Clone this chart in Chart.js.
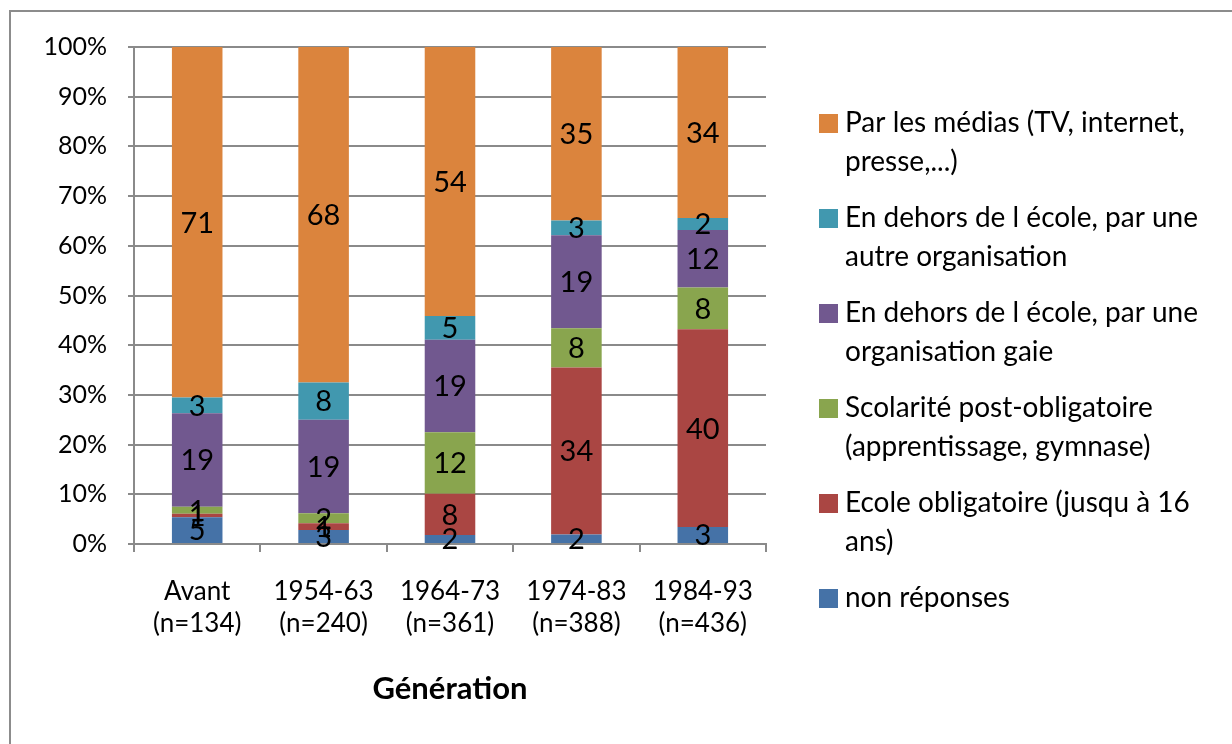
<!DOCTYPE html>
<html lang="fr">
<head>
    <meta charset="utf-8">
    <title>Génération</title>
    <script src="https://cdn.jsdelivr.net/npm/chart.js"></script>
    <style>
        body { margin: 0; background: #fff; }
        #wrap { width: 1232px; height: 744px; }
    </style>
</head>
<body>
    <div id="wrap"><canvas id="genChart"></canvas></div>
    <script>
        // data (percent of each generation)
        const categories = [
            ['Avant', '(n=134)'],
            ['1954-63', '(n=240)'],
            ['1964-73', '(n=361)'],
            ['1974-83', '(n=388)'],
            ['1984-93', '(n=436)']
        ];
        const nonReponses      = [5.4, 2.8, 1.8, 1.9, 3.4];
        const ecoleObligatoire = [0.7, 1.4, 8.3, 33.6, 39.8];
        const postObligatoire  = [1.4, 2.0, 12.4, 7.9, 8.4];
        const orgGaie          = [18.8, 18.8, 18.6, 18.7, 11.6];
        const autreOrg         = [3.2, 7.5, 4.8, 3.0, 2.4];
        const medias           = [70.5, 67.5, 54.1, 34.9, 34.4];

        const seriesLabels = [
            ['non réponses'],
            ['Ecole obligatoire (jusqu à 16', 'ans)'],
            ['Scolarité post-obligatoire', '(apprentissage, gymnase)'],
            ['En dehors de l école, par une', 'organisation gaie'],
            ['En dehors de l école, par une', 'autre organisation'],
            ['Par les médias (TV, internet,', 'presse,...)']
        ];
        const seriesValues = [nonReponses, ecoleObligatoire, postObligatoire, orgGaie, autreOrg, medias];
        const seriesColors = ['#4572A7', '#AA4643', '#89A54E', '#71588F', '#4198AF', '#DB843D'];
        const yTicks = [0, 10, 20, 30, 40, 50, 60, 70, 80, 90, 100];

        const gridGray = '#8a8a8a';
        const fontName = 'Lato';

        // frame round the whole chart
        const framePlugin = {
            id: 'frame',
            beforeDraw(chart) {
                const ctx = chart.ctx;
                ctx.save();
                ctx.fillStyle = '#fff';
                ctx.fillRect(0, 0, chart.width, chart.height);
                ctx.strokeStyle = '#8c8c8c';
                ctx.lineWidth = 2;
                ctx.strokeRect(10, 11, chart.width + 20, chart.height + 20);
                ctx.restore();
            }
        };

        // value written in the middle of every segment
        const valueLabels = {
            id: 'valueLabels',
            afterDatasetsDraw(chart) {
                const ctx = chart.ctx;
                ctx.save();
                ctx.font = '29px ' + fontName;
                ctx.fillStyle = '#000';
                ctx.textAlign = 'center';
                ctx.textBaseline = 'middle';
                chart.data.datasets.forEach((ds, i) => {
                    chart.getDatasetMeta(i).data.forEach((bar, j) => {
                        const p = bar.getProps(['x', 'y', 'base'], true);
                        ctx.fillText(Math.round(ds.data[j]), p.x, (p.y + p.base) / 2 + 1);
                    });
                });
                ctx.restore();
            }
        };

        // legend on the right, last series on top, wrapped over two lines
        const sideLegend = {
            id: 'sideLegend',
            afterDraw(chart) {
                const ctx = chart.ctx;
                ctx.save();
                ctx.font = '28px ' + fontName;
                ctx.textBaseline = 'middle';
                ctx.textAlign = 'left';
                const n = chart.data.datasets.length;
                for (let k = 0; k < n; k++) {
                    const ds = chart.data.datasets[n - 1 - k];
                    const y = 123 + k * 95;
                    ctx.fillStyle = ds.backgroundColor;
                    ctx.fillRect(819, y - 9, 19, 19);
                    ctx.fillStyle = '#000';
                    ds.lines.forEach((line, li) => ctx.fillText(line, 845, y + li * 39));
                }
                ctx.restore();
            }
        };

        const datasets = seriesValues.map((vals, i) => ({
            label: seriesLabels[i].join(' '),
            lines: seriesLabels[i],
            data: vals,
            backgroundColor: seriesColors[i],
            borderWidth: 0,
            barPercentage: 0.4,
            categoryPercentage: 1
        }));

        new Chart(document.getElementById('genChart'), {
            type: 'bar',
            data: { labels: categories, datasets: datasets },
            options: {
                responsive: true,
                maintainAspectRatio: false,
                animation: false,
                layout: { padding: { left: 0, top: 47, right: 466, bottom: 0 } },
                plugins: {
                    legend: { display: false },
                    tooltip: { enabled: false }
                },
                scales: {
                    x: {
                        stacked: true,
                        afterFit: s => { s.height = 200; },
                        grid: { drawOnChartArea: false, drawTicks: true, tickLength: 8, color: gridGray, lineWidth: 2 },
                        border: { color: gridGray, width: 2 },
                        ticks: { color: '#000', font: { family: fontName, size: 26, lineHeight: 1.23 }, padding: 24, maxRotation: 0 },
                        title: {
                            display: true,
                            text: 'Génération',
                            color: '#000',
                            font: { family: fontName, size: 31, weight: 'bold', lineHeight: 1.2 },
                            padding: { top: 0, bottom: 36 }
                        }
                    },
                    y: {
                        stacked: true,
                        min: 0,
                        max: 100,
                        afterFit: s => { s.width = 134; },
                        afterBuildTicks: s => { s.ticks = yTicks.map(v => ({ value: v })); },
                        grid: { color: gridGray, lineWidth: 2, tickLength: 6 },
                        border: { color: gridGray, width: 2 },
                        ticks: {
                            color: '#000',
                            font: { family: fontName, size: 25 },
                            padding: 21,
                            callback: v => v + '%'
                        }
                    }
                }
            },
            plugins: [framePlugin, valueLabels, sideLegend]
        });
    </script>
</body>
</html>
